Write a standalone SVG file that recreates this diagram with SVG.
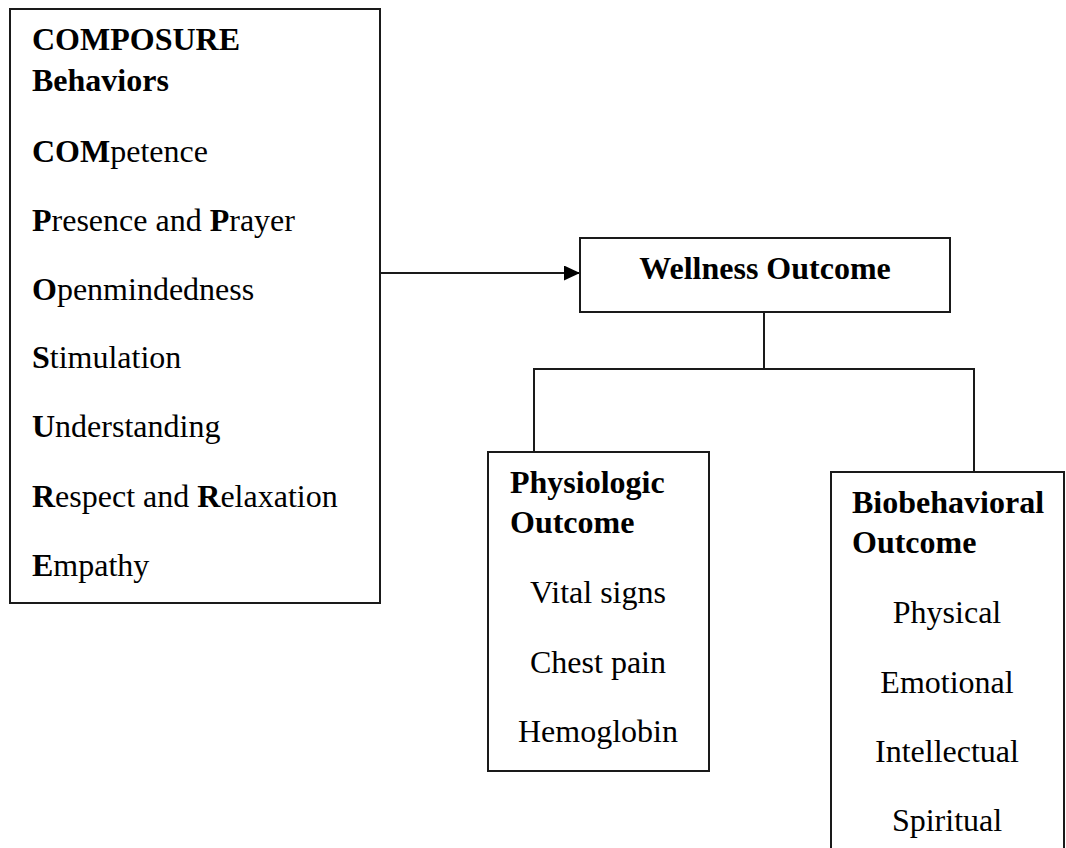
<svg xmlns="http://www.w3.org/2000/svg" width="1066" height="848" viewBox="0 0 1066 848">
  <style>
    .box { fill: #ffffff; stroke: #1a1a1a; stroke-width: 2; }
    .wire { fill: none; stroke: #1a1a1a; stroke-width: 2; }
    text { font-family: "Liberation Serif", "Times New Roman", serif; font-size: 32px; fill: #000; }
    .b { font-weight: bold; }
    .mid { text-anchor: middle; }
  </style>
  <defs>
    <marker id="arrow" markerWidth="16" markerHeight="15" refX="16" refY="7.5" orient="auto" markerUnits="userSpaceOnUse">
      <path d="M0,0 L16,7.5 L0,15 Z" fill="#000"/>
    </marker>
  </defs>

  <rect width="1066" height="848" fill="#ffffff"/>

  <!-- connectors -->
  <g id="connectors">
    <line class="wire" x1="380" y1="273" x2="580" y2="273" marker-end="url(#arrow)"/>
    <polyline class="wire" points="764,312 764,369"/>
    <polyline class="wire" points="534,452 534,369 974,369 974,472"/>
  </g>

  <!-- behaviors list -->
  <g id="composure">
    <rect class="box" x="10" y="9" width="370" height="594"/>
    <text x="32" y="50" class="b">COMPOSURE</text>
    <text x="32" y="91" class="b">Behaviors</text>
    <text x="32" y="162"><tspan class="b">COM</tspan>petence</text>
    <text x="32" y="231"><tspan class="b">P</tspan>resence and <tspan class="b">P</tspan>rayer</text>
    <text x="32" y="300"><tspan class="b">O</tspan>penmindedness</text>
    <text x="32" y="368"><tspan class="b">S</tspan>timulation</text>
    <text x="32" y="437"><tspan class="b">U</tspan>nderstanding</text>
    <text x="32" y="507"><tspan class="b">R</tspan>espect and <tspan class="b">R</tspan>elaxation</text>
    <text x="32" y="576"><tspan class="b">E</tspan>mpathy</text>
  </g>

  <!-- wellness outcome -->
  <g id="wellness">
    <rect class="box" x="580" y="238" width="370" height="74"/>
    <text x="765" y="279" class="b mid">Wellness Outcome</text>
  </g>

  <!-- physiologic outcome -->
  <g id="physiologic">
    <rect class="box" x="488" y="452" width="221" height="319"/>
    <text x="510" y="493" class="b">Physiologic</text>
    <text x="510" y="533" class="b">Outcome</text>
    <text x="598" y="603" class="mid">Vital signs</text>
    <text x="598" y="673" class="mid">Chest pain</text>
    <text x="598" y="742" class="mid">Hemoglobin</text>
  </g>

  <!-- biobehavioral outcome -->
  <g id="biobehavioral">
    <rect class="box" x="831" y="472" width="233" height="400"/>
    <text x="852" y="513" class="b">Biobehavioral</text>
    <text x="852" y="553" class="b">Outcome</text>
    <text x="947" y="623" class="mid">Physical</text>
    <text x="947" y="693" class="mid">Emotional</text>
    <text x="947" y="762" class="mid">Intellectual</text>
    <text x="947" y="831" class="mid">Spiritual</text>
  </g>
</svg>
